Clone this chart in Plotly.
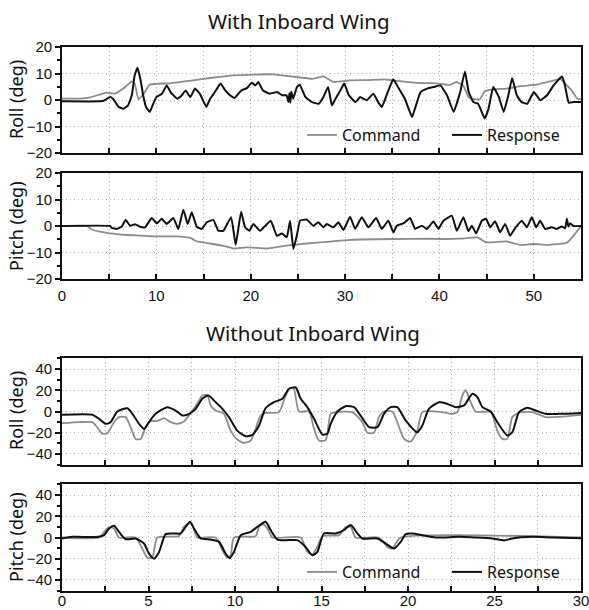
import plotly.graph_objects as go

# ---------------- Data: With Inboard Wing (time in s, angle in deg) ----------------
t_roll_cmd_a = [0, 1.9, 3.0, 4.7, 5.6, 6.5, 7.4, 7.7, 8.1, 8.6,
                9.3, 11.4, 13.9, 15.7, 18.2, 20.3, 22.4, 24.5, 26.6, 27.7,
                28.8, 30.5, 32.3, 34.1, 35.1, 36.5, 38.0, 39.7, 41.1, 41.8,
                42.5, 43.1, 43.6, 44.3, 44.8, 45.7, 47.1, 48.6, 50.3, 51.7,
                52.8, 53.5, 54.0, 54.6, 55]
roll_cmd_a = [0.5, 0.5, 1.0, 2.8, 2.4, 4.3, 7.0, 6.3, 0.3, 2.0,
              5.8, 6.3, 7.4, 8.3, 9.3, 9.6, 9.7, 8.8, 8.0, 8.9,
              6.8, 7.4, 7.5, 7.8, 7.4, 6.8, 6.4, 6.3, 5.7, 6.8,
              5.5, 1.1, 0.3, 0.3, 3.3, 4.0, 4.3, 5.2, 5.8, 7.0,
              8.0, 5.5, 3.6, 0.5, 0.3]

t_roll_rsp_a = [0.0, 4.0, 4.4, 5.1, 5.4, 6.0, 6.5, 7.0, 7.4, 7.7,
                8.0, 8.3, 8.6, 8.9, 9.3, 9.6, 10.0, 10.6, 11.1, 11.5,
                12.2, 12.7, 13.1, 13.6, 14.1, 14.6, 15.3, 15.7, 16.2, 16.8,
                17.3, 17.8, 18.3, 19.0, 19.6, 20.1, 20.5, 20.8, 21.3, 22.0,
                22.8, 23.3, 23.8, 24.0, 24.1, 24.2, 24.3, 24.5, 24.9, 25.2,
                25.8, 26.5, 27.2, 27.7, 28.2, 28.6, 28.9, 29.5, 29.9, 30.4,
                31.1, 31.6, 32.3, 33.0, 33.5, 33.9, 34.4, 35.1, 35.7, 36.4,
                36.7, 37.1, 37.4, 38.0, 38.7, 39.4, 40.1, 40.8, 41.5, 42.2,
                42.7, 43.1, 43.6, 44.1, 44.8, 45.2, 45.7, 46.3, 46.8, 47.3,
                47.7, 48.2, 48.7, 49.3, 50.0, 50.7, 51.4, 52.1, 53.0, 53.3,
                53.7, 54.2, 55.0]
roll_rsp_a = [-0.5, -0.5, -0.3, 1.1, 0.5, -2.6, -3.3, -2.0, 1.8, 9.3,
              12.2, 8.0, 1.8, -2.6, -4.5, -2.0, 1.1, 2.4, 5.5, 3.0,
              0.5, 1.8, 3.6, 1.1, 4.3, 2.4, -2.6, 0.5, 3.0, 6.2,
              3.6, 1.8, 0.8, 3.6, 4.5, 6.5, 5.5, 6.8, 3.6, 2.4,
              3.0, 1.8, 1.8, -0.8, 2.5, -1.0, 3.2, 0.5, 4.9, 5.8,
              1.1, -0.8, -1.4, 1.1, 4.9, -2.0, -0.1, 3.6, 6.2, 1.8,
              -0.8, 1.1, -0.1, 2.4, -0.8, -2.6, 1.8, 7.8, 4.3, -0.1,
              -3.0, -6.4, -3.3, 3.0, 4.3, 4.9, 5.5, 1.8, -4.5, 3.0,
              10.8, 3.0, -0.8, -1.4, -7.0, -3.3, 4.9, 1.1, -4.5, 1.8,
              8.3, 1.8, -0.8, -1.4, 3.0, -0.1, 1.8, 5.5, 8.9, 5.5,
              -1.0, -0.8, -0.8]

t_pitch_cmd_a = [0, 2.6, 3.3, 5.1, 6.9, 9.7, 12.2, 13.6, 14.3, 15.7,
                 17.1, 18.2, 19.6, 21.7, 23.1, 24.5, 25.9, 28.1, 30.2, 31.6,
                 35.1, 38.7, 40.4, 42.2, 44.0, 45.0, 47.1, 48.6, 50.0, 51.4,
                 53.5, 54.2, 55]
pitch_cmd_a = [0, 0, -1.5, -2.8, -3.4, -3.9, -3.9, -4.5, -5.8, -6.6,
               -7.5, -8.5, -8.1, -8.5, -7.8, -7.1, -6.6, -6.0, -5.3, -5.1,
               -4.9, -4.8, -4.9, -4.8, -4.3, -6.2, -5.8, -7.2, -6.8, -7.1,
               -6.3, -3.7, 0]

t_pitch_rsp_a = [0, 5.09, 5.27, 5.80, 6.33, 6.75, 7.21, 7.74, 8.27, 8.80,
                 9.51, 10.04, 10.57, 11.10, 11.80, 12.33, 12.86, 13.32, 13.75, 14.28,
                 14.81, 15.34, 16.04, 16.57, 17.10, 17.92, 18.41, 18.98, 19.40, 19.86,
                 20.28, 20.99, 22.12, 22.76, 23.29, 23.82, 24.17, 24.52, 24.88, 25.23,
                 25.94, 26.64, 27.17, 27.70, 28.06, 28.76, 29.29, 29.82, 30.53, 31.06,
                 31.77, 32.47, 33.29, 33.89, 34.59, 35.12, 35.48, 36.18, 36.89, 37.42,
                 38.13, 38.66, 39.36, 39.89, 40.42, 41.31, 41.84, 42.54, 43.07, 43.43,
                 43.89, 44.49, 44.95, 45.37, 45.90, 46.43, 46.96, 47.49, 48.02, 48.73,
                 49.26, 49.79, 50.25, 50.67, 51.20, 51.91, 52.44, 52.97, 53.32, 53.50,
                 53.67, 53.85, 54.20, 55]
pitch_rsp_a = [0, 0, -0.7, -1.1, -0.2, 2.3, 0.1, 0.7, -0.3, -0.5,
               3.0, 1.0, 2.7, 0.8, 3.0, -1.1, 6.1, 0.8, 5.2, -0.3,
               -1.1, 1.4, 2.3, -1.8, -1.8, 3.3, -7.1, 5.4, -0.5, -1.8,
               0.8, -1.8, 2.0, -3.7, -2.8, -4.3, 2.0, -8.7, -3.7, 2.0,
               2.4, 0.1, 1.4, -0.5, 0.8, -0.5, 1.4, -1.5, 3.5, -1.1,
               3.3, -0.5, 3.0, -1.1, 2.0, -2.4, 0.1, 1.0, 3.0, -1.1,
               0.1, -1.1, 1.7, -1.1, 2.0, 3.9, -1.8, 3.3, -2.0, 0.1,
               -2.8, 2.0, 2.7, -0.5, 1.8, -2.4, 0.8, -3.7, -0.8, 2.0,
               -0.5, 3.3, -0.5, 2.0, -1.1, -0.5, -1.1, -0.2, -0.9, 2.7,
               -0.2, 1.0, 0.0, 0.0]

# ---------------- Data: Without Inboard Wing ----------------
t_roll_cmd_b = [0, 0.98, 1.75, 2.04, 2.33, 2.62, 3.01, 3.29, 3.68, 3.97,
                4.26, 4.55, 4.84, 5.13, 5.51, 5.90, 6.28, 6.67, 7.05, 7.44,
                7.82, 8.11, 8.40, 8.59, 8.88, 9.36, 9.75, 10.13, 10.52, 10.91,
                11.19, 11.48, 11.77, 12.54, 12.93, 13.22, 13.41, 13.70, 14.28, 14.57,
                14.86, 15.24, 15.53, 15.82, 16.78, 17.36, 17.65, 18.03, 18.32, 18.61,
                19.09, 19.38, 19.77, 20.15, 20.54, 20.83, 21.98, 22.47, 22.85, 23.14,
                23.33, 23.62, 23.91, 24.78, 25.16, 25.45, 25.74, 26.03, 26.42, 27.19,
                27.96, 28.73, 30]
roll_cmd_b = [-11, -10, -10, -14.8, -21, -20.4, -10, -5.3, -5.3, -14.8,
              -25.8, -25.8, -14.8, -9, -9, -6.3, -10, -11.6, -9.4, -1.3,
              7.2, 15, 15.7, 5.7, 1, -2.2, -18, -26.4, -29.6, -27.4,
              -16.4, -3.8, -1.3, -0.6, 15, 22.6, 21, 0, 0, -16.4,
              -27.4, -27, -2.2, -0.6, -0.6, -10, -20, -20, -5.3, 0,
              0, -10, -25.8, -28.3, -18, -0.6, -0.6, -2.2, -0.5, 15,
              20, 8.8, 0, -0.6, -18, -25.8, -25.8, -5.3, -1, -0.6,
              -5.3, -5, -3.1]

t_roll_rsp_b = [0, 1.75, 2.14, 2.52, 2.81, 3.20, 3.78, 4.07, 4.45, 4.74,
                5.03, 5.41, 6.09, 6.57, 6.96, 7.34, 7.73, 8.11, 8.46, 8.88,
                9.27, 9.65, 10.13, 10.62, 11.0, 11.39, 11.77, 12.25, 12.74, 13.12,
                13.51, 13.80, 14.18, 14.57, 15.05, 15.34, 15.53, 15.92, 16.40, 16.88,
                17.26, 17.75, 18.23, 18.61, 19.0, 19.38, 19.87, 20.54, 20.83, 21.21,
                21.79, 22.27, 22.76, 23.24, 23.72, 24.01, 24.30, 24.78, 25.16, 25.74,
                26.03, 26.42, 26.90, 27.38, 27.96, 28.73, 30]
roll_rsp_b = [-3.1, -3.1, -6.9, -11.6, -10, 0, 3.1, -2.2, -11.6, -16.4,
              -10, -2.2, 4.1, 0.9, -3.8, -2.2, 2.5, 12, 15, 8.8,
              2.5, -5.3, -18, -23.3, -22, -13.2, 3.1, 8.8, 12, 21.4,
              22.6, 12, 4.1, -6.9, -21.7, -21, -11.6, 0, 5, 4.1,
              -3.8, -14.8, -14.8, -2.2, 4.1, 4.1, -8.5, -19.5, -13.2, 2.5,
              8.8, 7.2, 4.1, 5.7, 16.7, 13.5, 4.1, 0, -10, -22.6,
              -19.5, -0.6, 3.5, 0.9, -2.2, -2.2, -1.3]

t_pitch_cmd_b = [0, 2.14, 2.52, 2.72, 3.01, 3.29, 4.26, 4.64, 4.93, 5.22,
                 5.51, 6.76, 7.05, 7.34, 7.53, 7.82, 8.88, 9.27, 9.56, 9.75,
                 9.94, 11.19, 11.39, 11.62, 11.87, 12.16, 13.80, 14.18, 14.47, 14.76,
                 15.05, 16.01, 16.40, 16.69, 16.97, 18.32, 18.81, 19.09, 19.29, 19.58,
                 30]
pitch_cmd_b = [0, 0, 7, 9.5, 8.5, 0, 0, -10.4, -19, -19,
               0, 1.3, 10, 13.3, 11.7, 0, 0, -12, -19, -16.8,
               0, 1.3, 10, 12.7, 8.5, 0, 0, -13.6, -15.8, -8.9,
               1.3, 2.2, 10, 10, 0, 0, -8.9, -10.4, -5.7, 0,
               0]

t_pitch_rsp_b = [0, 0.60, 2.14, 2.43, 2.72, 3.01, 3.29, 3.68, 4.26, 4.74,
                 5.03, 5.32, 5.61, 5.99, 6.47, 6.86, 7.15, 7.40, 7.63, 8.02,
                 8.59, 9.08, 9.46, 9.69, 9.94, 10.33, 10.91, 11.29, 11.77, 12.06,
                 12.45, 12.93, 13.60, 14.08, 14.47, 14.76, 15.14, 15.82, 16.30, 16.69,
                 17.07, 17.36, 18.23, 18.71, 19.19, 19.58, 19.87, 20.25, 20.83, 21.60,
                 22.95, 23.91, 24.87, 25.55, 26.03, 27.19, 28.34, 30]
pitch_rsp_b = [-0.9, 0.6, 0.6, 2.2, 8.5, 11, 5.4, -1.6, -1, -5.7,
               -15.2, -19.9, -13.6, 3.2, 3.8, 3.8, 10, 14.9, 8.5, -0.9,
               -1.9, -4.1, -15.2, -19.3, -13.6, 2.2, 5.4, 10, 14.9, 7,
               -1.9, -2.5, -2.5, -8.9, -16.8, -13.6, 3.8, 3.8, 7, 11.7,
               3.8, -0.9, -0.9, -5.7, -10.4, -4.1, 3.2, 3.8, 2.2, 0,
               0.6, 0, -0.9, -2.8, -0.9, 0.6, 0, -0.6]

titles = ["With Inboard Wing", "Without Inboard Wing"]
ytitles = ["Roll (deg)", "Pitch (deg)", "Roll (deg)", "Pitch (deg)"]
series_names = ["Command", "Response"]
xticks_a = list(range(0, 56, 5))
xlabels_a = [str(v) if v % 10 == 0 else "" for v in xticks_a]
xticks_b = [i * 2.5 for i in range(13)]
xlabels_b = [str(int(v)) if v % 5 == 0 else "" for v in xticks_b]

# ---------------- Style ----------------
W, H = 589, 610
GRAY = "#8c8c8c"
BLACK = "#101010"
GRID = "#b0b0b0"
TICKFONT = dict(family="Liberation Sans, Arial", size=15, color="#111")
TEXTFONT = dict(family="Noto Sans", size=18, color="#111")

def px_x(p):
    return p / W

def px_y(p):
    return 1 - p / H

xdom = [px_x(62), px_x(581)]
ydoms = [[px_y(153), px_y(47)], [px_y(279), px_y(173)],
         [px_y(464.6), px_y(358.4)], [px_y(590.6), px_y(484.4)]]

fig = go.Figure()

panels = [
    (t_roll_cmd_a, roll_cmd_a, t_roll_rsp_a, roll_rsp_a, 0.35, "legend"),
    (t_pitch_cmd_a, pitch_cmd_a, t_pitch_rsp_a, pitch_rsp_a, 0.35, None),
    (t_roll_cmd_b, roll_cmd_b, t_roll_rsp_b, roll_rsp_b, 0.6, None),
    (t_pitch_cmd_b, pitch_cmd_b, t_pitch_rsp_b, pitch_rsp_b, 0.6, "legend2"),
]

for i, (tc, vc, tr, vr, smooth, leg) in enumerate(panels):
    xa = "x" if i == 0 else f"x{i+1}"
    ya = "y" if i == 0 else f"y{i+1}"
    show = leg is not None
    line_extra = dict(shape="spline", smoothing=smooth)
    fig.add_trace(go.Scatter(x=tc, y=vc, mode="lines", name=series_names[0],
                             line=dict(color=GRAY, width=1.8, **line_extra),
                             xaxis=xa, yaxis=ya, showlegend=show,
                             legend=leg if leg else "legend"))
    fig.add_trace(go.Scatter(x=tr, y=vr, mode="lines", name=series_names[1],
                             line=dict(color=BLACK, width=2, **line_extra),
                             xaxis=xa, yaxis=ya, showlegend=show,
                             legend=leg if leg else "legend"))

layout = dict(width=W, height=H, margin=dict(l=0, r=0, t=0, b=0, autoexpand=False),
              paper_bgcolor="white", plot_bgcolor="white", showlegend=True)

for i in range(4):
    top = i < 2
    n = "" if i == 0 else str(i + 1)
    yname = "y" if i == 0 else f"y{i+1}"
    xname = "x" if i == 0 else f"x{i+1}"
    tv = xticks_a if top else xticks_b
    tl = xlabels_a if top else xlabels_b
    showlab = i in (1, 3)
    layout["xaxis" + n] = dict(
        domain=xdom, anchor=yname, range=[0, 55] if top else [0, 30],
        tickmode="array", tickvals=tv, ticktext=tl, showticklabels=showlab,
        ticks="inside", ticklen=5, tickwidth=1.5, tickcolor="#111",
        ticklabeloverflow="allow", ticklabelstandoff=(2 if top else -5),
        showline=True, linecolor="#111", linewidth=1.8, mirror=True,
        showgrid=True, gridcolor=GRID, griddash="1px,3px", gridwidth=1.2,
        zeroline=False, tickfont=TICKFONT, fixedrange=True)
    # top-side outward ticks
    layout["xaxis" + str(i + 5)] = dict(
        domain=xdom, anchor=yname, overlaying=xname, side="top",
        range=[0, 55] if top else [0, 30],
        tickmode="array", tickvals=tv, showticklabels=False,
        ticks="outside", ticklen=5, tickwidth=1.5, tickcolor="#111",
        showline=False, showgrid=False, zeroline=False)
    if top:
        ydict = dict(range=[-20, 20], tickmode="array",
                     tickvals=[-20, -10, 0, 10, 20],
                     minor=dict(dtick=5, ticks="outside", ticklen=3,
                                tickcolor="#111", showgrid=False))
    else:
        ydict = dict(range=[-50, 50], tickmode="array",
                     tickvals=[-40, -20, 0, 20, 40],
                     minor=dict(dtick=10, ticks="outside", ticklen=3,
                                tickcolor="#111", showgrid=False))
    layout["yaxis" + n] = dict(
        domain=ydoms[i], anchor=xname, **ydict,
        ticks="outside", ticklen=5, tickwidth=1.5, tickcolor="#111",
        showline=True, linecolor="#111", linewidth=1.8, mirror=True,
        showgrid=True, gridcolor=GRID, griddash="1px,3px", gridwidth=1.2,
        zeroline=False, tickfont=TICKFONT, fixedrange=True)

legend_common = dict(orientation="h", xanchor="left", yanchor="middle",
                     bgcolor="rgba(0,0,0,0)", borderwidth=0,
                     font=dict(family="Noto Sans", size=16, color="#111"),
                     entrywidth=100, entrywidthmode="pixels",
                     itemwidth=30, tracegroupgap=0)
layout["legend"] = dict(x=px_x(302), y=px_y(135), **legend_common)
layout["legend2"] = dict(x=px_x(302), y=px_y(572), **legend_common)

annotations = [
    dict(text=titles[0], x=px_x(206), y=px_y(21), xref="paper", yref="paper",
         xanchor="left", yanchor="middle", showarrow=False,
         font=dict(family="Noto Sans", size=20.5, color="#111")),
    dict(text=titles[1], x=px_x(204), y=px_y(333), xref="paper", yref="paper",
         xanchor="left", yanchor="middle", showarrow=False,
         font=dict(family="Noto Sans", size=20.5, color="#111")),
]
ycenters = [100, 226, 411, 537]
for i in range(4):
    annotations.append(dict(text=ytitles[i], x=px_x(16), y=px_y(ycenters[i]),
                            xref="paper", yref="paper", xanchor="center",
                            yanchor="middle", textangle=-90, showarrow=False,
                            font=TEXTFONT))
layout["annotations"] = annotations

fig.update_layout(**layout)
fig.write_html("out.html")
